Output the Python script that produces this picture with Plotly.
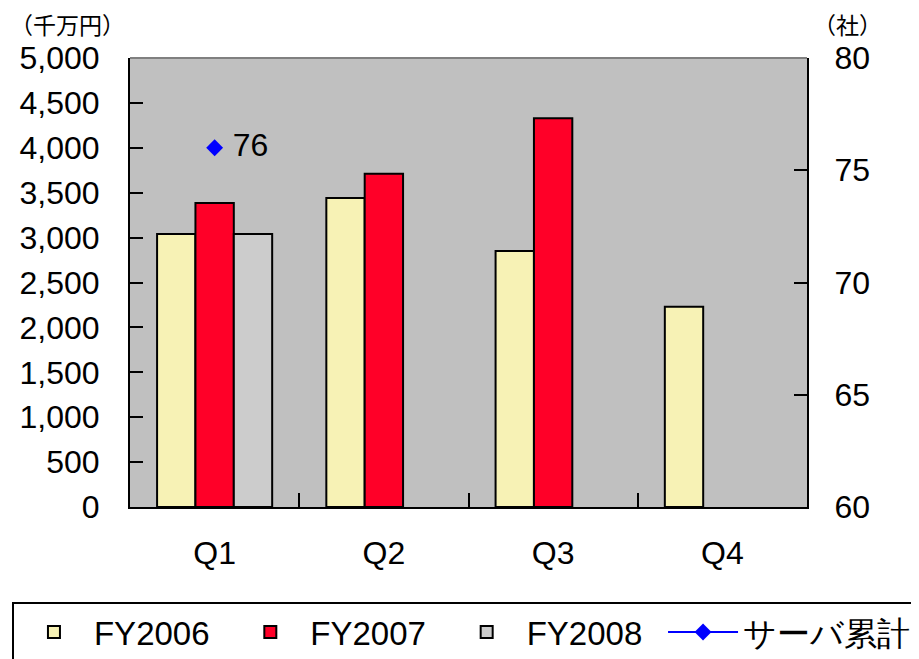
import plotly.graph_objects as go

quarters = ["Q1", "Q2", "Q3", "Q4"]
fy2006 = [3040, 3440, 2850, 2230]
fy2007 = [3385, 3710, 4330, None]
fy2008 = [3040, None, None, None]
server_q = ["Q1"]
server_total = [76]

FONT = "Liberation Sans, Arial, sans-serif"
FS = 32
PAD = "\u00a0\u2009"  # trailing padding so legend entries are spaced like the original

fig = go.Figure()
line_style = dict(color="black", width=2)
fig.add_trace(go.Bar(x=quarters, y=fy2006, name="FY2006" + PAD,
                     marker=dict(color="#F7F2B5", line=line_style)))
fig.add_trace(go.Bar(x=quarters, y=fy2007, name="FY2007" + PAD,
                     marker=dict(color="#FF0028", line=line_style)))
fig.add_trace(go.Bar(x=quarters, y=fy2008, name="FY2008" + PAD,
                     marker=dict(color="#CCCCCC", line=line_style)))
fig.add_trace(go.Scatter(x=server_q, y=server_total, name="サーバ累計", yaxis="y2",
                         mode="lines+markers+text",
                         text=["\u00a0" + str(v) for v in server_total],
                         textposition="middle right",
                         textfont=dict(size=FS, color="black", family=FONT),
                         line=dict(color="#0000FF", width=2),
                         marker=dict(symbol="diamond", size=13, color="#0000FF")))

W = 1050
fig.update_layout(
    width=W, height=651,
    margin=dict(l=122, r=W - 122 - 677, t=50, b=152, autoexpand=False),
    paper_bgcolor="white",
    plot_bgcolor="#C0C0C0",
    font=dict(family=FONT, size=FS, color="black"),
    barmode="group", bargap=0.32, bargroupgap=0,
    xaxis=dict(showline=True, linecolor="black", linewidth=2, automargin=False,
               ticks="inside", ticklen=14, tickwidth=2, tickcolor="black",
               tickson="boundaries", showgrid=False,
               ticklabelstandoff=17, tickfont=dict(size=FS)),
    yaxis=dict(range=[0, 5000], dtick=500, tickformat=",", automargin=False,
               showline=True, linecolor="black", linewidth=2,
               ticks="inside", ticklen=13, tickwidth=2, tickcolor="black",
               showgrid=False, zeroline=False,
               ticklabelstandoff=22, tickfont=dict(size=FS)),
    yaxis2=dict(range=[60, 80], dtick=5, overlaying="y", side="right", automargin=False,
                showline=True, linecolor="black", linewidth=2,
                ticks="inside", ticklen=13, tickwidth=2, tickcolor="black",
                showgrid=False, zeroline=False,
                ticklabelstandoff=19, tickfont=dict(size=FS)),
    legend=dict(orientation="h", x=1.1639, y=-0.2116,
                xanchor="right", yanchor="top",
                bgcolor="white", bordercolor="black", borderwidth=2,
                font=dict(size=33, family=FONT),
                itemwidth=70,
                traceorder="normal"),
    showlegend=True,
)

fig.add_shape(type="line", xref="paper", yref="paper", x0=0, x1=1, y0=1, y1=1,
              line=dict(color="#808080", width=2))

fig.add_annotation(text="（千万円）", xref="paper", yref="paper", x=-0.18, y=1.0757,
                   xanchor="left", yanchor="middle", showarrow=False,
                   font=dict(size=23, family="Noto Sans CJK JP"))
fig.add_annotation(text="（社）", xref="paper", yref="paper", x=1.006, y=1.0757,
                   xanchor="left", yanchor="middle", showarrow=False,
                   font=dict(size=23, family="Noto Sans CJK JP"))

fig.write_html("out.html")
